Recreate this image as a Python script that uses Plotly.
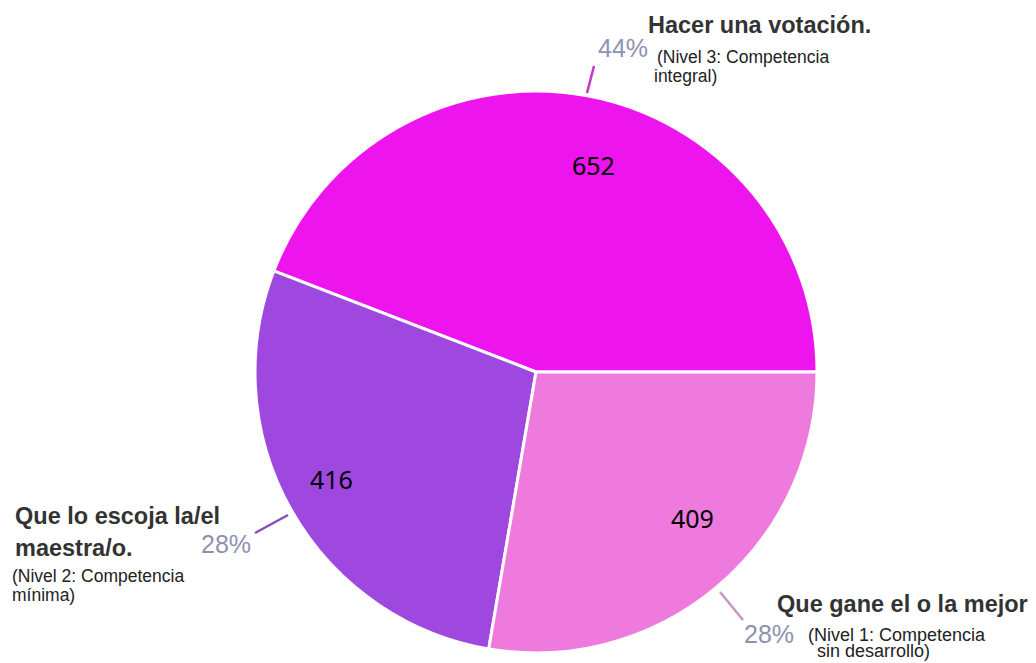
import plotly.graph_objects as go

# Respuestas (conteos) y colores de cada rebanada
labels = ["Hacer una votación.", "Que lo escoja la/el maestra/o.", "Que gane el o la mejor"]
values = [652, 416, 409]
colors = ["#EE14EE", "#9E48E0", "#EE7ADE"]
line_colors = ["#C535C8", "#7E52B8", "#C896C6"]

total = sum(values)
pcts = [f"{round(v / total * 100)}%" for v in values]

# la pagina tiene 8px de margen en el body, el grafico se ajusta a eso
OFF = 8
W, H = 1036 - OFF, 663 - OFF


def px(x):
    return (x - OFF) / W


def py(y):
    return 1 - (y - OFF) / H


# en sentido antihorario plotly deja la primera rebanada a la derecha del punto de giro,
# asi que giramos para que la primera empiece a las 3 en punto
rotation = 90 - 360 * values[0] / total

fig = go.Figure()

fig.add_trace(go.Pie(
    labels=labels,
    values=values,
    sort=False,
    direction="counterclockwise",
    rotation=rotation,
    marker=dict(colors=colors, line=dict(color="white", width=3)),
    textinfo="none",
    domain=dict(x=[px(536 - 281), px(536 + 281)], y=[py(372 + 281), py(372 - 281)]),
    showlegend=False,
))

BOLD = dict(family="Liberation Sans", size=23.5, color="#333333")
SUB = dict(family="Liberation Sans", size=17.5, color="#222222")
PCT = dict(family="Liberation Sans", size=25, color="#8E91B0")
VAL = dict(family="Noto Sans", size=25, color="black")


def ann(x, y, text, font, anchor="left"):
    return dict(x=px(x), y=py(y), text=text, font=font, xanchor=anchor, yanchor="middle",
                align="left", xref="paper", yref="paper", showarrow=False)


annotations = [
    # valores dentro de las rebanadas
    ann(593, 165, str(values[0]), VAL, "center"),
    ann(331, 479, str(values[1]), VAL, "center"),
    ann(692, 518, str(values[2]), VAL, "center"),
    # Hacer una votación
    ann(646, 25, "<b>" + labels[0] + "</b>", BOLD),
    ann(655, 57, "(Nivel 3: Competencia", SUB),
    ann(652, 76, "integral)", SUB),
    ann(596, 48, pcts[0], PCT),
    # Que lo escoja la/el maestra/o
    ann(13, 516, "<b>Que lo escoja la/el</b>", BOLD),
    ann(13, 548, "<b>maestra/o.</b>", BOLD),
    ann(10, 576, "(Nivel 2: Competencia", SUB),
    ann(10, 595, "mínima)", SUB),
    ann(199, 544, pcts[1], PCT),
    # Que gane el o la mejor
    ann(775, 604, "<b>" + labels[2] + "</b>", BOLD),
    ann(806, 635, "(Nivel 1: Competencia", dict(SUB, size=18)),
    ann(815, 651, "sin desarrollo)", dict(SUB, size=18)),
    ann(742, 634, pcts[2], PCT),
]

# lineas guia hacia las etiquetas
leaders = [((587, 93), (594, 66)), ((288, 515), (255, 533)), ((720, 592), (743, 620))]
shapes = []
for (p0, p1), c in zip(leaders, line_colors):
    shapes.append(dict(type="line", xref="paper", yref="paper",
                       x0=px(p0[0]), y0=py(p0[1]), x1=px(p1[0]), y1=py(p1[1]),
                       line=dict(color=c, width=2.5)))

fig.update_layout(
    width=W, height=H,
    margin=dict(l=0, r=0, t=0, b=0),
    paper_bgcolor="white",
    plot_bgcolor="white",
    annotations=annotations,
    shapes=shapes,
)

fig.write_html("out.html")
